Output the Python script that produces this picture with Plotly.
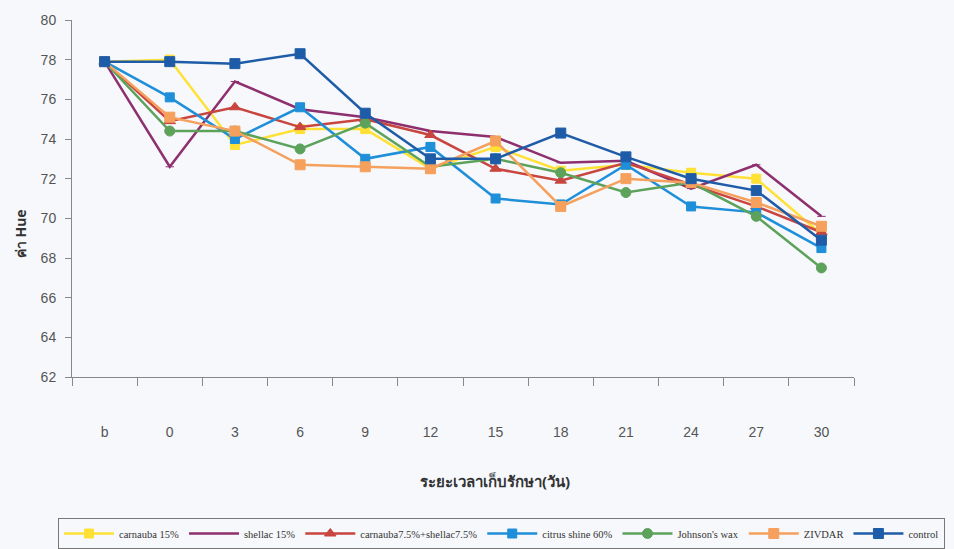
import plotly.graph_objects as go

days = ["b", "0", "3", "6", "9", "12", "15", "18", "21", "24", "27", "30"]

carnauba15 = [77.9, 78.0, 73.7, 74.5, 74.5, 72.5, 73.6, 72.4, 72.7, 72.3, 72.0, 69.2]
shellac15 = [77.9, 72.6, 76.9, 75.5, 75.1, 74.4, 74.1, 72.8, 72.9, 71.5, 72.7, 70.1]
carn_shel = [77.9, 74.9, 75.6, 74.6, 75.0, 74.2, 72.5, 71.9, 72.8, 71.7, 70.6, 69.3]
citrus60 = [77.9, 76.1, 74.0, 75.6, 73.0, 73.6, 71.0, 70.7, 72.7, 70.6, 70.3, 68.5]
johnson = [77.9, 74.4, 74.4, 73.5, 74.8, 72.6, 73.0, 72.3, 71.3, 71.8, 70.1, 67.5]
zivdar = [77.9, 75.1, 74.4, 72.7, 72.6, 72.5, 73.9, 70.6, 72.0, 71.8, 70.8, 69.6]
control = [77.9, 77.9, 77.8, 78.3, 75.3, 73.0, 73.0, 74.3, 73.1, 72.0, 71.4, 68.9]

y_ticks = [62, 64, 66, 68, 70, 72, 74, 76, 78, 80]

series = [
    ("carnauba 15%", carnauba15, "#FFE135", "square", 9),
    ("shellac 15%", shellac15, "#8E2F6E", "line-ew", 6),
    ("carnauba7.5%+shellac7.5%", carn_shel, "#C9453F", "triangle-up", 10),
    ("citrus shine 60%", citrus60, "#1E8FD8", "square", 9),
    ("Johnson's wax", johnson, "#5DA25B", "circle", 10),
    ("ZIVDAR", zivdar, "#F5A05C", "square", 10),
    ("control", control, "#1F5CA8", "square", 10),
]

fig = go.Figure()
for name, vals, color, sym, size in series:
    fig.add_trace(go.Scatter(
        x=days, y=vals, name=name, mode="lines+markers",
        line=dict(color=color, width=2.5),
        marker=dict(symbol=sym, size=size, color=color,
                    line=dict(color=color, width=1)),
    ))

PW = 882.0  # paper drawing width (l margin 72, r margin 0)

fig.update_layout(
    width=954, height=549,
    margin=dict(l=72, r=0, t=20, b=172, autoexpand=False),
    paper_bgcolor="#f6f8fc", plot_bgcolor="#f6f8fc",
    showlegend=True,
    legend=dict(
        orientation="h", x=(58 - 72) / PW, xanchor="left", y=-0.395, yanchor="top",
        font=dict(family="Liberation Serif", size=10.5, color="#333"),
        bordercolor="#777", borderwidth=1, bgcolor="#f7f8fb",
        itemwidth=50, tracegroupgap=0,
    ),
    xaxis=dict(
        type="category", range=[-0.5, 11.5], domain=[0, 782 / PW],
        showgrid=False, zeroline=False,
        showline=True, linecolor="#888", linewidth=1,
        ticks="outside", tickson="boundaries", ticklen=8, tickcolor="#888",
        ticklabelstandoff=42,
        tickfont=dict(family="Liberation Sans", size=14, color="#555"),
    ),
    yaxis=dict(
        range=[62, 80], tickvals=y_ticks, showgrid=False, zeroline=False,
        showline=True, linecolor="#888", linewidth=1,
        ticks="outside", ticklen=6, tickcolor="#888", ticklabelstandoff=6,
        tickfont=dict(family="Liberation Sans", size=14, color="#555"),
    ),
    annotations=[
        dict(text="<b>ระยะเวลาเก็บรักษา(วัน)</b>", xref="paper", yref="paper",
             x=(495 - 72) / PW, y=-0.29, xanchor="center", yanchor="middle",
             showarrow=False,
             font=dict(family="Noto Sans", size=15, color="#333")),
        dict(text="<b>ค่า Hue</b>", xref="paper", yref="paper",
             x=(20 - 72) / PW, y=0.40, xanchor="center", yanchor="middle",
             showarrow=False, textangle=-90,
             font=dict(family="Noto Sans", size=14, color="#333")),
    ],
)

fig.write_html("out.html", config={"displayModeBar": False},
               post_script="document.body.style.margin='0px';")
